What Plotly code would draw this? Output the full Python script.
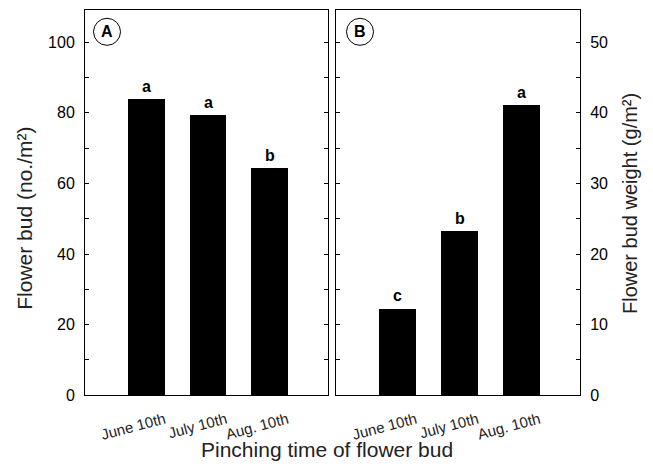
import plotly.graph_objects as go

categories = ["June 10th", "July 10th", "Aug. 10th"]
bud_number = [84.0, 79.4, 64.5]
bud_weight = [12.3, 23.3, 41.1]
letters_a = ["a", "a", "b"]
letters_b = ["c", "b", "a"]
xpos = [1, 2, 3]

FONT = "Liberation Sans, Arial, sans-serif"
fig = go.Figure()
fig.add_trace(go.Bar(x=xpos, y=bud_number, width=0.6, marker=dict(color="black", line=dict(width=0)),
                     xaxis="x", yaxis="y", showlegend=False))
fig.add_trace(go.Bar(x=xpos, y=bud_weight, width=0.6, marker=dict(color="black", line=dict(width=0)),
                     xaxis="x2", yaxis="y2", showlegend=False))

W, H = 653, 469
ya_dom = [1 - 403 / H, 1 - 10 / H]
xa_dom = [85 / W, 328 / W]
xb_dom = [336 / W, 580 / W]

common_x = dict(range=[0, 3.95], tickvals=xpos, ticktext=categories, tickangle=-15,
                ticklabelshift=18, ticklabelstandoff=9,
                showline=True, linecolor="black", linewidth=1, mirror=True, ticks="",
                showgrid=False, zeroline=False, tickfont=dict(family=FONT, size=15, color="#222"),
                fixedrange=True)
fig.update_layout(
    width=W, height=H, margin=dict(l=0, r=0, t=0, b=0),
    plot_bgcolor="white", paper_bgcolor="white", bargap=0,
    xaxis=dict(domain=xa_dom, anchor="y", **common_x),
    xaxis2=dict(domain=xb_dom, anchor="y2", **common_x),
    yaxis=dict(domain=ya_dom, anchor="x", range=[0, 109.2], tickvals=[0, 20, 40, 60, 80, 100],
               ticks="inside", ticklen=4, tickcolor="black", mirror="ticks", showline=True,
               linecolor="black", linewidth=1, showgrid=False, zeroline=False, ticklabelstandoff=6,
               minor=dict(tickvals=[10, 30, 50, 70, 90], ticks="inside", ticklen=4, tickcolor="black"),
               tickfont=dict(family=FONT, size=16, color="black")),
    yaxis2=dict(domain=ya_dom, anchor="x2", side="right", range=[0, 54.6],
                tickvals=[0, 10, 20, 30, 40, 50],
                ticks="inside", ticklen=4, tickcolor="black", mirror="ticks", showline=True,
                linecolor="black", linewidth=1, showgrid=False, zeroline=False, ticklabelstandoff=6,
                minor=dict(tickvals=[5, 15, 25, 35, 45], ticks="inside", ticklen=4, tickcolor="black"),
                tickfont=dict(family=FONT, size=16, color="black")),
)

for i, (v, t) in enumerate(zip(bud_number, letters_a)):
    fig.add_annotation(x=xpos[i], y=v, text=f"<b>{t}</b>", xref="x", yref="y", showarrow=False,
                       yanchor="bottom", yshift=2, font=dict(family=FONT, size=16, color="black"))
for i, (v, t) in enumerate(zip(bud_weight, letters_b)):
    fig.add_annotation(x=xpos[i], y=v, text=f"<b>{t}</b>", xref="x2", yref="y2", showarrow=False,
                       yanchor="bottom", yshift=2, font=dict(family=FONT, size=16, color="black"))

# panel labels
for lab, xr, yr, cx in [("A", "x domain", "y domain", 22), ("B", "x2 domain", "y2 domain", 24)]:
    fig.add_shape(type="circle", xref=xr, yref=yr, xsizemode="pixel", ysizemode="pixel",
                  xanchor=0, yanchor=1, x0=cx - 13.5, x1=cx + 13.5, y0=-22 - 13.5, y1=-22 + 13.5,
                  line=dict(color="black", width=1))
    fig.add_annotation(x=0, y=1, xref=xr, yref=yr, text=f"<b>{lab}</b>", showarrow=False,
                       xanchor="center", yanchor="middle", xshift=cx, yshift=-22,
                       font=dict(family=FONT, size=16, color="black"))

fig.add_annotation(x=25 / W, y=1 - 223 / H, xref="paper", yref="paper", text="Flower bud (no./m²)",
                   textangle=-90, showarrow=False, xanchor="center", yanchor="middle",
                   font=dict(family=FONT, size=21, color="#222"))
fig.add_annotation(x=630 / W, y=1 - 208 / H, xref="paper", yref="paper", text="Flower bud weight (g/m²)",
                   textangle=-90, showarrow=False, xanchor="center", yanchor="middle",
                   font=dict(family=FONT, size=20, color="#222"))
fig.add_annotation(x=327 / W, y=1 - 458 / H, xref="paper", yref="paper", text="Pinching time of flower bud",
                   showarrow=False, xanchor="center", yanchor="middle",
                   font=dict(family=FONT, size=21, color="#222"))

fig.write_html("out.html", config={"displayModeBar": False},
               post_script="document.body.style.margin='0';document.body.style.overflow='hidden';")
